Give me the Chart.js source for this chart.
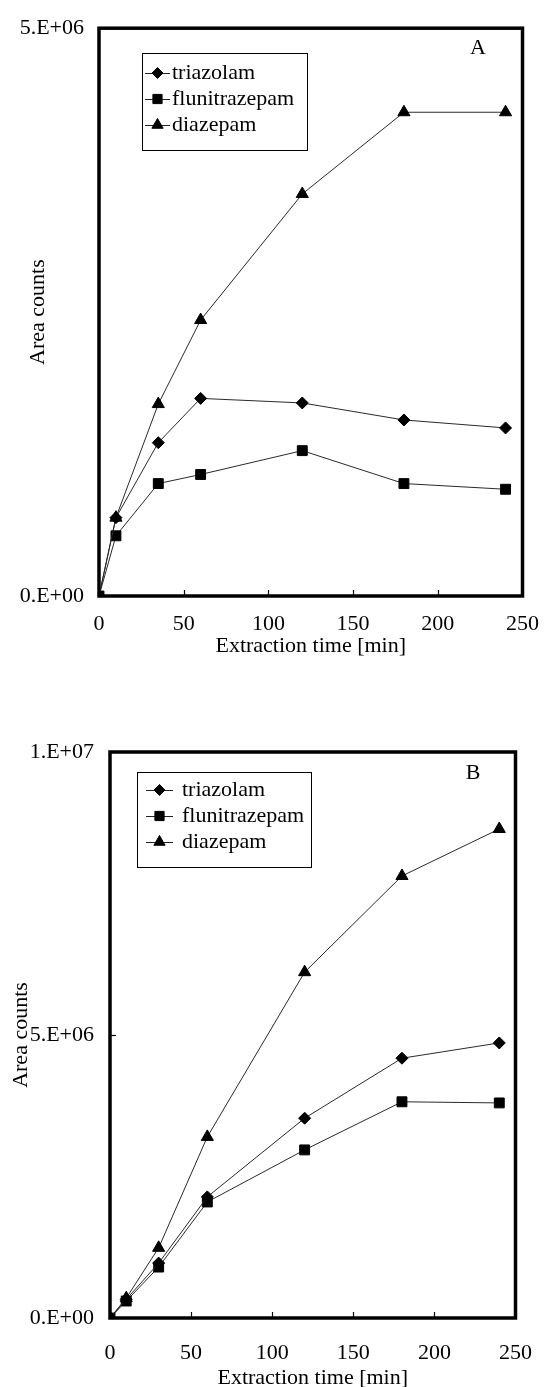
<!DOCTYPE html>
<html><head><meta charset="utf-8">
<script src="https://cdn.jsdelivr.net/npm/chart.js@4.4.1/dist/chart.umd.min.js"></script>
<style>
html,body{margin:0;padding:0;background:#fff;}
body{width:554px;height:1387px;position:relative;overflow:hidden;}
.wrap{position:absolute;left:0;width:554px;}
canvas{display:block;}
</style></head><body>
<div class="wrap" style="top:0;height:680px"><canvas id="ca"></canvas></div>
<div class="wrap" style="top:680px;height:727px"><canvas id="cb"></canvas></div>
<script>
// ---------- data ----------
const seriesNames = ['triazolam', 'flunitrazepam', 'diazepam'];
const xTicks = [0, 50, 100, 150, 200, 250];
const xTitle = 'Extraction time [min]';
const yTitle = 'Area counts';

// Panel A
const timeA = [0, 10, 35, 60, 120, 180, 240];
const triazolamA = [0, 0.69e6, 1.35e6, 1.74e6, 1.70e6, 1.55e6, 1.48e6];
const flunitrazepamA = [0, 0.53e6, 0.99e6, 1.07e6, 1.28e6, 0.99e6, 0.94e6];
const diazepamA = [0, 0.69e6, 1.69e6, 2.43e6, 3.54e6, 4.26e6, 4.26e6];
const yTicksA = [0, 5e6];
const yTickLabelsA = ['0.E+00', '5.E+06'];

// Panel B
const timeB = [0, 10, 30, 60, 120, 180, 240];
const triazolamB = [0, 0.33e6, 0.97e6, 2.14e6, 3.53e6, 4.59e6, 4.86e6];
const flunitrazepamB = [0, 0.30e6, 0.90e6, 2.05e6, 2.97e6, 3.82e6, 3.80e6];
const diazepamB = [0, 0.35e6, 1.24e6, 3.20e6, 6.11e6, 7.81e6, 8.64e6];
const yTicksB = [0, 5e6, 1e7];
const yTickLabelsB = ['0.E+00', '5.E+06', '1.E+07'];

// ---------- styling ----------
const FONT = 'Liberation Serif, Times New Roman, serif';
const styles = [
  {pointStyle: 'rectRot', radius: 6},
  {pointStyle: 'rect', radius: 7},
  {pointStyle: 'triangle', radius: 7}
];

function pts(xs, ys) { return xs.map((x, i) => ({x: x, y: ys[i]})); }

const framePlugin = {
  id: 'frame',
  beforeDatasetsDraw(chart) {
    const {ctx, chartArea: a} = chart;
    const xs = chart.scales.x, ys = chart.scales.y;
    ctx.save();
    ctx.strokeStyle = '#000';
    ctx.lineWidth = 1.2;
    xTicks.slice(1, -1).forEach(v => {
      const px = Math.round(xs.getPixelForValue(v)) + 0.5;
      ctx.beginPath(); ctx.moveTo(px, a.bottom); ctx.lineTo(px, a.bottom - 6); ctx.stroke();
    });
    const yt = chart.options.plugins.frame.yTicks;
    yt.slice(1, -1).forEach(v => {
      const py = Math.round(ys.getPixelForValue(v)) + 0.5;
      ctx.beginPath(); ctx.moveTo(a.left, py); ctx.lineTo(a.left + 6, py); ctx.stroke();
    });
    ctx.lineWidth = 3.5;
    ctx.strokeRect(a.left, a.top, a.right - a.left, a.bottom - a.top);
    ctx.restore();
  },
  afterDraw(chart) {
    const o = chart.options.plugins.frame;
    const {ctx} = chart;
    ctx.save();
    const L = o.legend;
    ctx.fillStyle = '#fff';
    ctx.fillRect(L.x, L.y, L.w, L.h);
    ctx.strokeStyle = '#000';
    ctx.lineWidth = 1;
    ctx.strokeRect(L.x + 0.5, L.y + 0.5, L.w, L.h);
    ctx.font = '22px ' + FONT;
    ctx.textBaseline = 'middle';
    ctx.textAlign = 'left';
    chart.data.datasets.forEach((ds, i) => {
      const y = L.y + L.first + i * L.gap;
      ctx.strokeStyle = '#222';
      ctx.lineWidth = 1;
      ctx.beginPath(); ctx.moveTo(L.lx1, y + 0.5); ctx.lineTo(L.lx2, y + 0.5); ctx.stroke();
      ctx.fillStyle = '#000';
      ctx.strokeStyle = '#000';
      Chart.helpers.drawPoint(ctx, {pointStyle: styles[i].pointStyle, radius: styles[i].radius - 0.5, rotation: 0, borderWidth: 1}, (L.lx1 + L.lx2) / 2, y);
      ctx.fillStyle = '#000';
      ctx.fillText(ds.label, L.tx, y);
    });
    ctx.font = '22px ' + FONT;
    ctx.textAlign = 'center';
    ctx.fillStyle = '#000';
    ctx.fillText(o.letter.text, o.letter.x, o.letter.y);
    ctx.restore();
  }
};

function makeChart(id, g, xs, seriesList, yTicks, yLabels, letter, legend) {
  const cv = document.getElementById(id);
  cv.width = 554; cv.height = g.h;
  cv.style.width = '554px'; cv.style.height = g.h + 'px';
  return new Chart(cv, {
    type: 'line',
    data: {
      datasets: seriesList.map((ys, i) => ({
        label: seriesNames[i],
        data: pts(xs, ys),
        borderColor: '#2a2a2a',
        borderWidth: 1,
        pointStyle: styles[i].pointStyle,
        pointRadius: styles[i].radius,
        pointHoverRadius: styles[i].radius,
        pointBackgroundColor: '#000',
        pointBorderColor: '#000',
        pointBorderWidth: 1,
        tension: 0,
        fill: false
      }))
    },
    options: {
      responsive: false,
      animation: false,
      devicePixelRatio: 1,
      events: [],
      layout: {padding: {top: g.top, right: 554 - g.right, left: 0, bottom: 0}},
      plugins: {
        legend: {display: false},
        tooltip: {enabled: false},
        frame: {yTicks: yTicks, letter: letter, legend: legend}
      },
      scales: {
        x: {
          type: 'linear', min: 0, max: 250,
          afterBuildTicks: s => { s.ticks = xTicks.map(v => ({value: v})); },
          afterFit: s => { s.height = g.h - g.bottom; },
          ticks: {font: {family: FONT, size: 22}, color: '#000', padding: g.xPad, maxRotation: 0, autoSkip: false},
          grid: {display: false, drawTicks: false},
          border: {display: false},
          title: {display: true, text: xTitle, color: '#000', font: {family: FONT, size: 22}, padding: {top: 0, bottom: g.xTitlePad}}
        },
        y: {
          type: 'linear', min: yTicks[0], max: yTicks[yTicks.length - 1],
          afterBuildTicks: s => { s.ticks = yTicks.map(v => ({value: v})); },
          afterFit: s => { s.width = g.left; },
          ticks: {font: {family: FONT, size: 22}, color: '#000', padding: g.yPad,
                  callback: v => yLabels[yTicks.indexOf(v)]},
          grid: {display: false, drawTicks: false},
          border: {display: false},
          title: {display: true, text: yTitle, color: '#000', font: {family: FONT, size: 22}, padding: {top: g.yTitlePad, bottom: 0}}
        }
      }
    },
    plugins: [framePlugin]
  });
}

makeChart('ca', {h: 680, top: 22, bottom: 596, left: 99, right: 530, xPad: 15, yPad: 15, xTitlePad: 21, yTitlePad: 25},
  timeA, [triazolamA, flunitrazepamA, diazepamA], yTicksA, yTickLabelsA,
  {text: 'A', x: 478, y: 48},
  {x: 142, y: 53, w: 165, h: 97, first: 20, gap: 26, lx1: 145, lx2: 170, tx: 172});

makeChart('cb', {h: 727, top: 72, bottom: 638, left: 110, right: 520, xPad: 22, yPad: 16, xTitlePad: 16, yTitlePad: 8},
  timeB, [triazolamB, flunitrazepamB, diazepamB], yTicksB, yTickLabelsB,
  {text: 'B', x: 473, y: 93},
  {x: 137, y: 92, w: 174, h: 95, first: 18, gap: 26, lx1: 146, lx2: 173, tx: 182});
</script>
</body></html>
